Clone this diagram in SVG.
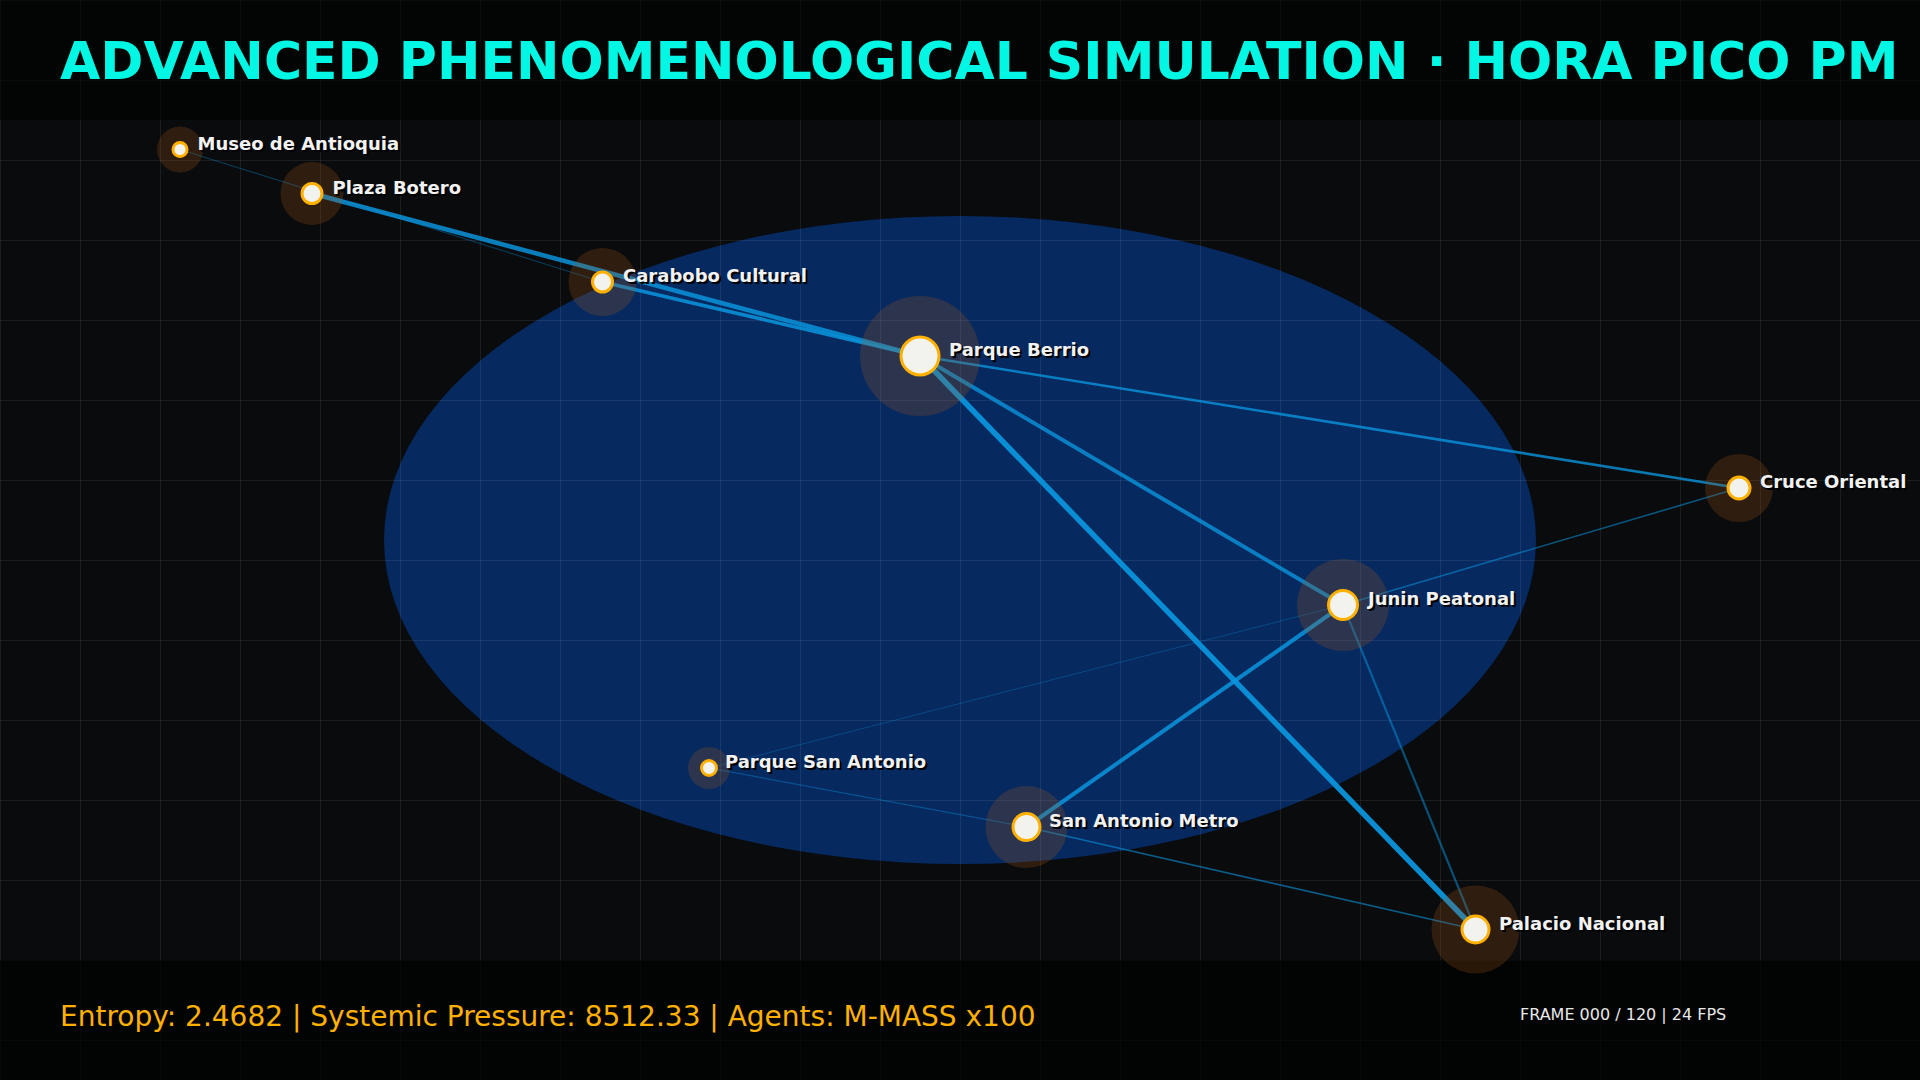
<svg xmlns="http://www.w3.org/2000/svg" width="1920" height="1080" viewBox="0 0 1920 1080">
<defs>
<pattern id="grid" x="0" y="0" width="80" height="80" patternUnits="userSpaceOnUse">
<path d="M0.5 0V80M0 0.5H80" fill="none" stroke="#ffffff" stroke-opacity="0.075" stroke-width="1"/>
</pattern>
</defs>
<style>
.halo{fill:rgb(175,92,23);fill-opacity:0.23}
.core{fill:#F2F3EE;stroke:#FFB000;stroke-width:3}
.lbl{font-family:"DejaVu Sans","Liberation Sans",sans-serif;font-weight:bold;font-size:18px}
.sh{fill:#000000}
.tx{fill:#F2F2F2}
.e{fill:none;stroke:#0a93db;stroke-linecap:butt}
</style>
<rect x="0" y="0" width="1920" height="1080" fill="#0a0b0d"/>
<ellipse cx="960" cy="540" rx="576" ry="324" fill="#06295f"/>
<rect x="0" y="0" width="1920" height="1080" fill="url(#grid)"/>
<rect x="0" y="0" width="1920" height="120" fill="#000000" fill-opacity="0.62"/>
<rect x="0" y="960" width="1920" height="120" fill="#000000" fill-opacity="0.72"/>
<text x="60" y="79" font-family="DejaVu Sans, Liberation Sans, sans-serif" font-weight="bold" font-size="52" fill="#00F7E3">ADVANCED PHENOMENOLOGICAL SIMULATION · HORA PICO PM</text>
<g id="connectors">
<line class="e" x1="180" y1="149.5" x2="602.5" y2="282" stroke-width="1.2" stroke-opacity="0.35"/>
<line class="e" x1="312" y1="193.5" x2="920" y2="356" stroke-width="4.5" stroke-opacity="0.85"/>
<line class="e" x1="602.5" y1="282" x2="920" y2="356" stroke-width="3.5" stroke-opacity="0.88"/>
<line class="e" x1="920" y1="356" x2="1739" y2="488" stroke-width="2.6" stroke-opacity="0.8"/>
<line class="e" x1="920" y1="356" x2="1343" y2="605" stroke-width="4" stroke-opacity="0.8"/>
<line class="e" x1="920" y1="356" x2="1475.5" y2="929.5" stroke-width="5.5" stroke-opacity="0.95"/>
<line class="e" x1="1343" y1="605" x2="1739" y2="488" stroke-width="1.6" stroke-opacity="0.55"/>
<line class="e" x1="1343" y1="605" x2="1475.5" y2="929.5" stroke-width="2.2" stroke-opacity="0.5"/>
<line class="e" x1="1343" y1="605" x2="1026.5" y2="827" stroke-width="4" stroke-opacity="0.88"/>
<line class="e" x1="1343" y1="605" x2="709" y2="768" stroke-width="1" stroke-opacity="0.3"/>
<line class="e" x1="709" y1="768" x2="1026.5" y2="827" stroke-width="1.2" stroke-opacity="0.4"/>
<line class="e" x1="1026.5" y1="827" x2="1475.5" y2="929.5" stroke-width="1.7" stroke-opacity="0.6"/>
</g>
<g id="museo-de-antioquia">
<circle class="halo" cx="180" cy="149.5" r="23"/>
<circle class="core" cx="180" cy="149.5" r="7"/>
<text class="lbl sh" x="199.5" y="151.5">Museo de Antioquia</text>
<text class="lbl tx" x="197.5" y="149.5">Museo de Antioquia</text>
</g>
<g id="plaza-botero">
<circle class="halo" cx="312" cy="193.5" r="31.5"/>
<circle class="core" cx="312" cy="193.5" r="10"/>
<text class="lbl sh" x="334.5" y="195.5">Plaza Botero</text>
<text class="lbl tx" x="332.5" y="193.5">Plaza Botero</text>
</g>
<g id="carabobo-cultural">
<circle class="halo" cx="602.5" cy="282" r="34"/>
<circle class="core" cx="602.5" cy="282" r="10"/>
<text class="lbl sh" x="625" y="284">Carabobo Cultural</text>
<text class="lbl tx" x="623" y="282">Carabobo Cultural</text>
</g>
<g id="parque-berrio">
<circle class="halo" cx="920" cy="356" r="60"/>
<circle class="core" cx="920" cy="356" r="19"/>
<text class="lbl sh" x="951" y="358">Parque Berrio</text>
<text class="lbl tx" x="949" y="356">Parque Berrio</text>
</g>
<g id="cruce-oriental">
<circle class="halo" cx="1739" cy="488" r="34"/>
<circle class="core" cx="1739" cy="488" r="11"/>
<text class="lbl sh" x="1762" y="490">Cruce Oriental</text>
<text class="lbl tx" x="1760" y="488">Cruce Oriental</text>
</g>
<g id="junin-peatonal">
<circle class="halo" cx="1343" cy="605" r="46"/>
<circle class="core" cx="1343" cy="605" r="14.5"/>
<text class="lbl sh" x="1370" y="607">Junin Peatonal</text>
<text class="lbl tx" x="1368" y="605">Junin Peatonal</text>
</g>
<g id="parque-san-antonio">
<circle class="halo" cx="709" cy="768" r="21"/>
<circle class="core" cx="709" cy="768" r="7.5"/>
<text class="lbl sh" x="727" y="770">Parque San Antonio</text>
<text class="lbl tx" x="725" y="768">Parque San Antonio</text>
</g>
<g id="san-antonio-metro">
<circle class="halo" cx="1026.5" cy="827" r="41"/>
<circle class="core" cx="1026.5" cy="827" r="13.5"/>
<text class="lbl sh" x="1051" y="829">San Antonio Metro</text>
<text class="lbl tx" x="1049" y="827">San Antonio Metro</text>
</g>
<g id="palacio-nacional">
<circle class="halo" cx="1475.5" cy="929.5" r="44"/>
<circle class="core" cx="1475.5" cy="929.5" r="13.5"/>
<text class="lbl sh" x="1501" y="931.5">Palacio Nacional</text>
<text class="lbl tx" x="1499" y="929.5">Palacio Nacional</text>
</g>
<text x="60" y="1026" font-family="DejaVu Sans, Liberation Sans, sans-serif" font-size="28" fill="#FFB000">Entropy: 2.4682 | Systemic Pressure: 8512.33 | Agents: M-MASS x100</text>
<text x="1520" y="1020" font-family="DejaVu Sans, Liberation Sans, sans-serif" font-size="16" fill="#E8E8E8">FRAME 000 / 120 | 24 FPS</text>
</svg>
